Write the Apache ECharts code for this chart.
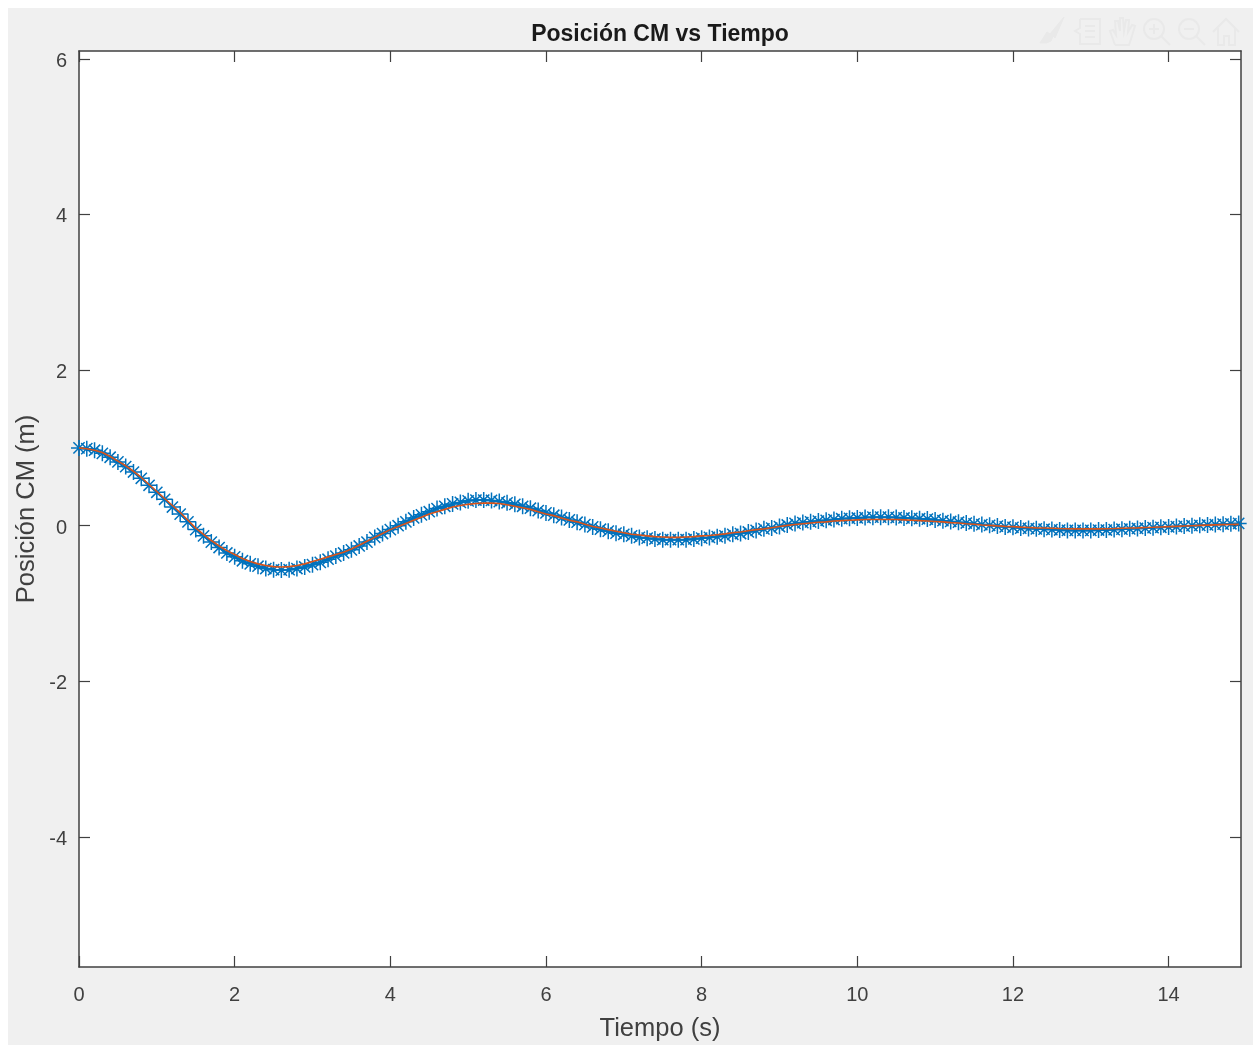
<!DOCTYPE html>
<html>
<head>
<meta charset="utf-8">
<title>Posición CM vs Tiempo</title>
<style>
html,body{margin:0;padding:0;background:#fff;overflow:hidden}
#c{position:absolute;left:8px;top:8px;width:1245px;height:1037px;filter:blur(0.45px)}
</style>
<script src="https://cdn.jsdelivr.net/npm/echarts@6/dist/echarts.min.js"></script>
</head>
<body>
<div id="c"></div>
<script>
var tiempo = [
0.0,0.1,0.2,0.3,0.4,0.5,0.6,0.7,0.8,0.9,
1.0,1.1,1.2,1.3,1.4,1.5,1.6,1.7,1.8,1.9,
2.0,2.1,2.2,2.3,2.4,2.5,2.6,2.7,2.8,2.9,
3.0,3.1,3.2,3.3,3.4,3.5,3.6,3.7,3.8,3.9,
4.0,4.1,4.2,4.3,4.4,4.5,4.6,4.7,4.8,4.9,
5.0,5.1,5.2,5.3,5.4,5.5,5.6,5.7,5.8,5.9,
6.0,6.1,6.2,6.3,6.4,6.5,6.6,6.7,6.8,6.9,
7.0,7.1,7.2,7.3,7.4,7.5,7.6,7.7,7.8,7.9,
8.0,8.1,8.2,8.3,8.4,8.5,8.6,8.7,8.8,8.9,
9.0,9.1,9.2,9.3,9.4,9.5,9.6,9.7,9.8,9.9,
10.0,10.1,10.2,10.3,10.4,10.5,10.6,10.7,10.8,10.9,
11.0,11.1,11.2,11.3,11.4,11.5,11.6,11.7,11.8,11.9,
12.0,12.1,12.2,12.3,12.4,12.5,12.6,12.7,12.8,12.9,
13.0,13.1,13.2,13.3,13.4,13.5,13.6,13.7,13.8,13.9,
14.0,14.1,14.2,14.3,14.4,14.5,14.6,14.7,14.8,14.9];

var posicionAzul = [
1.00,.99,.97,.93,.88,.82,.76,.69,.61,.52,
.43,.34,.24,.15,.05,-.05,-.13,-.21,-.28,-.35,
-.40,-.45,-.49,-.52,-.55,-.565,-.57,-.565,-.55,-.53,
-.50,-.47,-.43,-.39,-.35,-.31,-.26,-.21,-.15,-.10,
-.05,0,.05,.10,.14,.18,.22,.25,.28,.30,
.32,.33,.33,.325,.31,.295,.275,.25,.225,.195,
.165,.135,.105,.075,.045,.015,-.015,-.045,-.07,-.095,
-.11,-.13,-.15,-.16,-.17,-.18,-.18,-.18,-.18,-.17,
-.16,-.15,-.14,-.13,-.11,-.10,-.08,-.06,-.04,-.03,
-.01,.01,.03,.04,.05,.06,.07,.08,.09,.095,
.10,.105,.11,.11,.11,.105,.10,.095,.09,.085,
.075,.065,.055,.045,.035,.025,.015,.005,-.005,-.015,
-.02,-.03,-.035,-.04,-.045,-.05,-.055,-.06,-.06,-.06,
-.06,-.055,-.055,-.05,-.045,-.04,-.035,-.03,-.025,-.02,
-.015,-.01,-.005,0,.005,.01,.015,.02,.025,.03];

var posicionRoja = [
1.00,.99,.97,.94,.89,.83,.77,.70,.62,.53,
.44,.35,.26,.17,.07,-.03,-.11,-.19,-.26,-.32,
-.37,-.42,-.46,-.49,-.51,-.525,-.53,-.525,-.51,-.49,
-.46,-.43,-.40,-.37,-.34,-.30,-.25,-.20,-.15,-.10,
-.05,-.01,.03,.07,.11,.15,.18,.21,.24,.26,
.275,.285,.29,.29,.285,.27,.25,.23,.21,.18,
.15,.13,.10,.07,.05,.02,-.01,-.03,-.05,-.07,
-.09,-.11,-.12,-.13,-.14,-.145,-.15,-.15,-.145,-.14,
-.13,-.125,-.115,-.105,-.09,-.08,-.065,-.05,-.04,-.025,
-.01,.005,.015,.025,.035,.045,.05,.06,.065,.07,
.075,.08,.08,.08,.08,.08,.075,.07,.065,.06,
.055,.05,.04,.035,.025,.02,.01,.005,-.002,-.008,
-.012,-.018,-.022,-.027,-.03,-.033,-.036,-.038,-.04,-.04,
-.04,-.04,-.038,-.036,-.033,-.03,-.027,-.023,-.02,-.016,
-.012,-.008,-.004,0,.004,.008,.011,.014,.016,.018];

var xTicks = [0,2,4,6,8,10,12,14];
var yTicks = [-4,-2,0,2,4,6];

function pairs(xs, ys){ return xs.map(function(x,i){ return [x, ys[i]]; }); }

var INK = '#404040', FONT = '"Liberation Sans", Arial, sans-serif', GHOST = '#e9e9e9';
var ASTER = 'path://M0 5L10 5M5 0L5 10M1.5 1.5L8.5 8.5M1.5 8.5L8.5 1.5';

function axis(kind, pos, ticks, lim, labels, extra){
  var a = {
    type:'value', position:pos, min:lim[0], max:lim[1], splitLine:{show:false},
    axisLine:{show:true, onZero:false, lineStyle:{color:INK, width:1.5}},
    axisTick:{show:true, inside:true, length:11, customValues:ticks, lineStyle:{color:INK, width:1.2}},
    axisLabel:{show:labels, customValues:ticks, color:INK, fontFamily:FONT, fontSize:20,
      showMinLabel:true, showMaxLabel:true, hideOverlap:false, margin:kind==='x'?18:12}
  };
  if (kind==='y'){ a.axisLabel.verticalAlign='top'; a.axisLabel.lineHeight=5; }
  for (var k in extra) a[k] = extra[k];
  return a;
}
var xLim=[0,14.93], yLim=[-5.67,6.1];
var nameStyle={color:INK,fontFamily:FONT,fontSize:25.5};

function gline(pts,x,y,filled){
  return {type:'polyline', silent:true, x:x-8, y:y-8, shape:{points:pts},
    style:filled?{fill:GHOST,stroke:GHOST,lineWidth:2}:{fill:null,stroke:GHOST,lineWidth:2}};
}
function gcirc(cx,cy,r){
  return {type:'circle', silent:true, x:cx-8, y:cy-8, shape:{cx:0,cy:0,r:r},
    style:{fill:null,stroke:GHOST,lineWidth:2}};
}
var graphics = [
  {type:'polygon', silent:true, x:1030, y:9, shape:{points:[[26,0],[12,17],[9,15],[2,26],[8,26],[13,24],[15,19],[17,21]]},
    style:{fill:GHOST,stroke:GHOST,lineWidth:1}},
  gline([[6,1],[26,1],[26,26],[6,26],[6,16],[1,13],[6,10],[6,1]],1074,18),
  gline([[11,8],[21,8]],1074,18), gline([[11,13],[21,13]],1074,18), gline([[11,19],[21,19]],1074,18),
  gline([[7,28],[2,14],[5,13],[8,18],[7,4],[10,4],[12,14],[12,1],[15,1],[16,14],[18,3],[21,3],[20,15],[24,8],[27,9],[23,22],[21,28],[7,28]],1108,17),
  gcirc(1154,29,10), gline([[18,18],[27,27]],1143,18), gline([[11,6],[11,16]],1143,18), gline([[6,11],[16,11]],1143,18),
  gcirc(1189,29,10), gline([[18,18],[27,27]],1178,18), gline([[6,11],[16,11]],1178,18),
  gline([[1,14],[14,1],[27,14]],1212,18),
  gline([[6,10],[6,27],[12,27],[12,18],[17,18],[17,27],[23,27],[23,10]],1212,18)
];

var chart = echarts.init(document.getElementById('c'), null, {renderer:'canvas'});
chart.setOption({
  animation:false,
  backgroundColor:'#f0f0f0',
  title:{text:'Posición CM vs Tiempo', left:647, top:10, textAlign:'center',
    textStyle:{color:'#1a1a1a',fontFamily:FONT,fontWeight:'bold',fontSize:23}},
  grid:{left:71, top:43, width:1162, height:916, backgroundColor:'#fff', show:true, borderWidth:0, outerBoundsMode:'none'},
  xAxis:[
    axis('x','bottom',xTicks,xLim,true,{name:'Tiempo (s)',nameLocation:'middle',nameGap:49,nameTextStyle:nameStyle}),
    axis('x','top',xTicks,xLim,false,{})
  ],
  yAxis:[
    axis('y','left',yTicks,yLim,true,{name:'Posición CM (m)',nameLocation:'middle',nameGap:39,nameMoveOverlap:false,nameTextStyle:nameStyle}),
    axis('y','right',yTicks,yLim,false,{})
  ],
  series:[
    {type:'line', name:'Azul', data:pairs(tiempo,posicionAzul), showAllSymbol:true,
      symbol:ASTER, symbolSize:16, symbolKeepAspect:true,
      lineStyle:{color:'#0072BD',width:2},
      itemStyle:{color:'transparent',borderColor:'#0072BD',borderWidth:1.5}},
    {type:'line', name:'Roja', data:pairs(tiempo,posicionRoja), showSymbol:false, symbol:'none',
      lineStyle:{color:'#D95319',width:1.6}, z:5}
  ],
  graphic:graphics
});
</script>
</body>
</html>
